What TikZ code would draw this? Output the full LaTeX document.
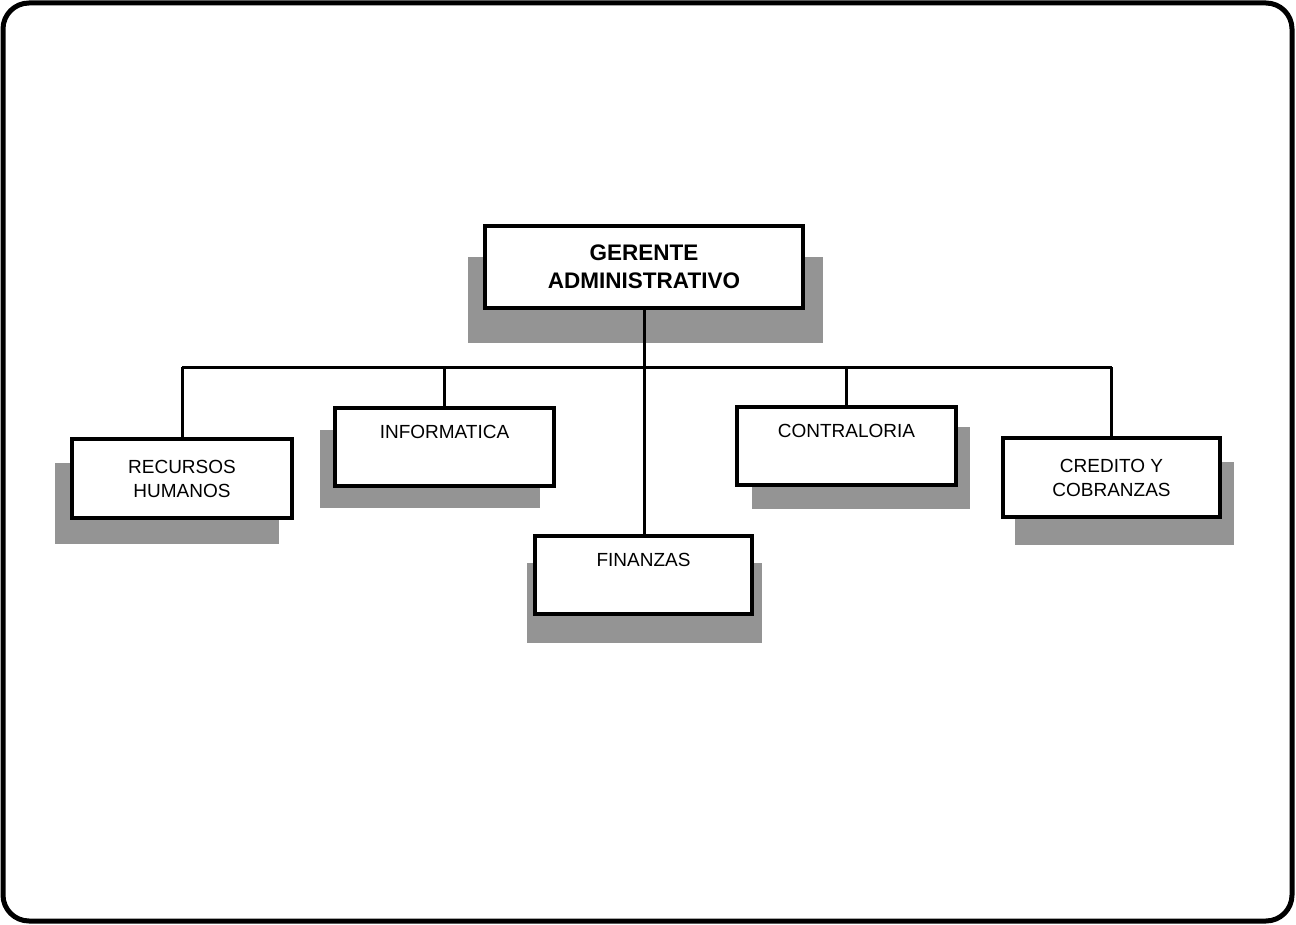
\documentclass[tikz,border=0pt]{standalone}
\usepackage{fontspec}
\setmainfont{Liberation Sans}
\begin{document}
\begin{tikzpicture}[x=1pt,y=-1pt,
  unitbox/.style={draw=black,line width=3.4pt,fill=white,inner sep=0pt,
    align=center,font=\fontsize{19}{24}\selectfont},
  headbox/.style={unitbox,font=\fontsize{22.5}{28}\selectfont\bfseries},
  shade/.style={fill=black!42},
  link/.style={draw=black,line width=3pt}]
\useasboundingbox (0,0) rectangle (1296,925);
% outer frame
\draw[line width=5pt,rounded corners=26pt] (3,3) rectangle (1292,921);

% drop shadows
\fill[shade] (468,257) rectangle (823,343);
\fill[shade] (55,463) rectangle (279,544);
\fill[shade] (320,430) rectangle (540,508);
\fill[shade] (527,563) rectangle (762,643);
\fill[shade] (752,427) rectangle (970,509);
\fill[shade] (1015,462) rectangle (1234,545);

% units
\coordinate (bus) at (643,367);
\node[headbox,minimum width=318pt,minimum height=82pt] (ga) at (644,267)
  {GERENTE\\ADMINISTRATIVO};
\node[unitbox,minimum width=220pt,minimum height=79pt] (rh) at (182,478.5)
  {RECURSOS\\HUMANOS};
\node[unitbox,minimum width=219pt,minimum height=78pt] (inf) at (444.5,447)
  {INFORMATICA\\\strut};
\node[unitbox,minimum width=217pt,minimum height=78pt] (fin) at (643.5,575)
  {FINANZAS\\\strut};
\node[unitbox,minimum width=219pt,minimum height=78pt] (con) at (846.5,446)
  {CONTRALORIA\\\strut};
\node[unitbox,minimum width=217pt,minimum height=79pt] (cyc) at (1111.5,477.5)
  {CREDITO Y\\COBRANZAS};

% connectors
\draw[link] (ga.south) -- (ga.south |- fin.north);
\draw[link] (rh.north |- bus) -- (cyc.north |- bus);
\draw[link] (rh.north |- bus) -- (rh.north);
\draw[link] (inf.north |- bus) -- (inf.north);
\draw[link] (con.north |- bus) -- (con.north);
\draw[link] (cyc.north |- bus) -- (cyc.north);
\end{tikzpicture}
\end{document}
